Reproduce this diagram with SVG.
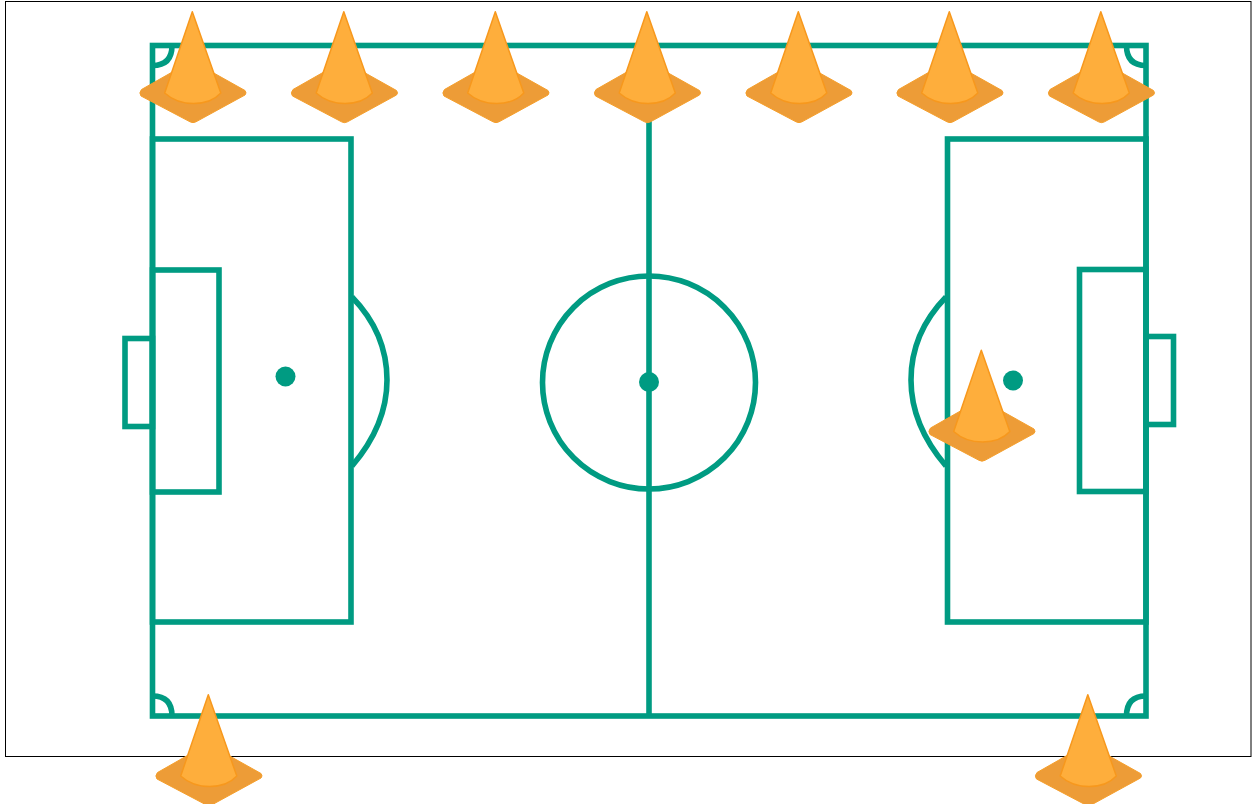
<svg xmlns="http://www.w3.org/2000/svg" width="1256" height="804" viewBox="0 0 1256 804">
<style>
.ln{fill:none;stroke:#009b82;stroke-width:5.600}
.dot{fill:#009b82}
.plate{fill:#ed9c37;stroke:#f59f2c;stroke-width:1;stroke-linejoin:round}
.cone{fill:#feae3c;stroke:#f7981d;stroke-width:1.500;stroke-linejoin:round}
</style>
<defs>
<g id="c">
<path class="plate" d="M-50.500 78.500L-3 51.500L3 51.500L53 79.500Q55 82 53 84L4 110.800Q1 112.500 -2 110.800L-51 85Q-53.500 82 -50.500 78.500Z"/>
<path class="cone" d="M0.300 0.800L28.800 82C16 96 -12 96 -27.300 82Z"/>
</g>
</defs>
<rect id="frame" x="5.500" y="1.500" width="1245.500" height="755" fill="#fff" stroke="#000" stroke-width="1"/>
<g id="pitch">
<rect class="ln" x="152.500" y="45.500" width="993.500" height="670.500"/>
<path class="ln" d="M649 45.500V716"/>
<circle class="ln" cx="649" cy="382.500" r="106.500"/>
<circle class="dot" cx="649" cy="382" r="10"/>
<rect class="ln" x="152.500" y="139" width="198.500" height="483"/>
<rect class="ln" x="152.500" y="270" width="66.500" height="222"/>
<rect class="ln" x="125" y="338.500" width="27.500" height="88"/>
<circle class="dot" cx="285.500" cy="376.500" r="10"/>
<path class="ln" d="M352 297Q387 333 387 380Q387 425 352 466"/>
<rect class="ln" x="947.500" y="139" width="198.500" height="483"/>
<rect class="ln" x="1079.500" y="269.500" width="66.500" height="222"/>
<rect class="ln" x="1146" y="336.500" width="27.500" height="88"/>
<circle class="dot" cx="1013" cy="380.500" r="10"/>
<path class="ln" d="M946 297Q911 333 911 380Q911 425 946 466"/>
<path class="ln" d="M152.500 65.500Q172 65.500 172 45.500"/>
<path class="ln" d="M1146 65.500Q1126.500 65.500 1126.500 45.500"/>
<path class="ln" d="M152.500 696Q172 696 172 716"/>
<path class="ln" d="M1146 696Q1126.500 696 1126.500 716"/>
</g>
<g id="cone1"><use href="#c" x="192" y="11"/></g>
<g id="cone2"><use href="#c" x="343.500" y="11"/></g>
<g id="cone3"><use href="#c" x="495" y="11"/></g>
<g id="cone4"><use href="#c" x="646.500" y="11"/></g>
<g id="cone5"><use href="#c" x="798" y="11"/></g>
<g id="cone6"><use href="#c" x="949" y="11"/></g>
<g id="cone7"><use href="#c" x="1100.500" y="11"/></g>
<g id="cone8"><use href="#c" x="981" y="349.500"/></g>
<g id="cone9"><use href="#c" x="208" y="694"/></g>
<g id="cone10"><use href="#c" x="1087.500" y="694"/></g>
</svg>
